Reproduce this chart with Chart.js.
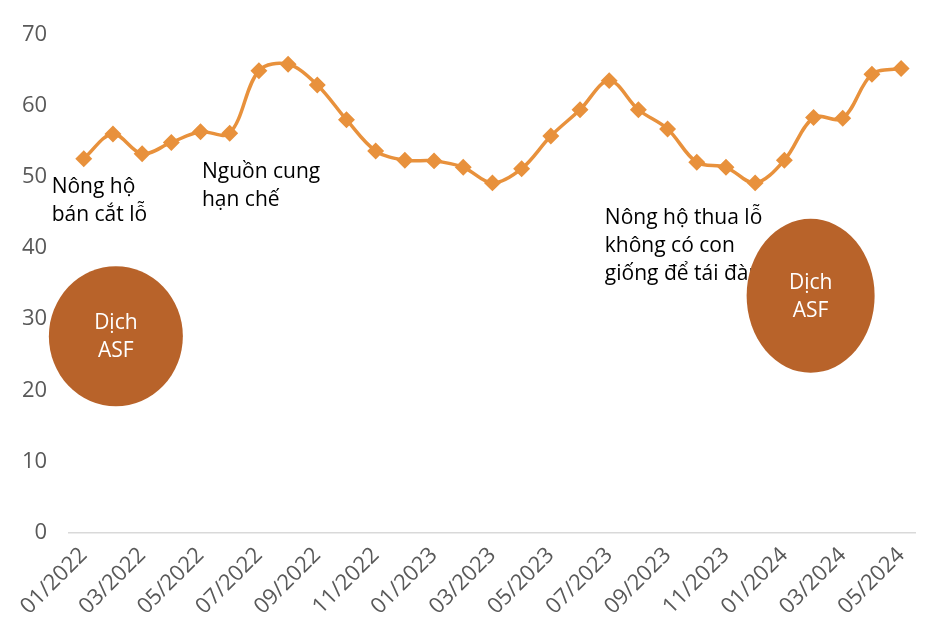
<!DOCTYPE html>
<html><head><meta charset="utf-8">
<script src="https://cdn.jsdelivr.net/npm/chart.js@4/dist/chart.umd.min.js"></script>
<style>html,body{margin:0;background:#fff}#w{width:930px;height:630px}</style>
</head><body><div id="w"><canvas id="c"></canvas></div>
<script>
const categories = ["01/2022","02/2022","03/2022","04/2022","05/2022","06/2022","07/2022","08/2022","09/2022","10/2022","11/2022","12/2022","01/2023","02/2023","03/2023","04/2023","05/2023","06/2023","07/2023","08/2023","09/2023","10/2023","11/2023","12/2023","01/2024","02/2024","03/2024","04/2024","05/2024"];
const values = [52.6,56.1,53.3,54.9,56.4,56.2,65.0,65.9,63.0,58.1,53.7,52.4,52.3,51.4,49.2,51.2,55.8,59.5,63.6,59.5,56.8,52.1,51.4,49.2,52.4,58.4,58.3,64.5,65.3];
const yTicks = [0,10,20,30,40,50,60,70];
const notes = [
  {x:-1.1, y:48.6, lines:["Nông hộ","bán cắt lỗ"]},
  {x:4.05, y:50.8, lines:["Nguồn cung","hạn chế"]},
  {x:17.85, y:44.2, lines:["Nông hộ thua lỗ","không có con","giống để tái đàn"]}
];
const bubbles = [{x:1.1, y:27.6, rx:67, ry:70}, {x:24.9, y:33.3, rx:64, ry:77}];
const FONT = "'Open Sans', sans-serif";
const deco = {
  id:'deco',
  afterDatasetsDraw(chart){
    const {ctx, scales:{x,y}} = chart;
    ctx.save();
    ctx.fillStyle='#000'; ctx.font='21px '+FONT; ctx.textBaseline='middle';
    const px = i => x.left + (x.right-x.left)*(i+0.5)/categories.length;
    notes.forEach(n=>n.lines.forEach((l,k)=>ctx.fillText(l, px(n.x), y.getPixelForValue(n.y)+k*28)));
    bubbles.forEach(b=>{
      const cx=px(b.x), cy=y.getPixelForValue(b.y);
      ctx.fillStyle='#B8632A'; ctx.beginPath(); ctx.ellipse(cx,cy,b.rx,b.ry,0,0,Math.PI*2); ctx.fill();
      ctx.fillStyle='#fff'; ctx.textAlign='center'; ctx.font='21px '+FONT;
      ctx.fillText('Dịch',cx,cy-13); ctx.fillText('ASF',cx,cy+15); ctx.textAlign='left';
    });
    ctx.restore();
  }
};
new Chart(document.getElementById('c'),{
  type:'line',
  data:{labels:categories,datasets:[{data:values,borderColor:'#E8913C',backgroundColor:'#E8913C',borderWidth:3.5,tension:0.35,pointStyle:'rectRot',pointRadius:6,pointHoverRadius:6}]},
  options:{animation:false,responsive:true,maintainAspectRatio:false,
    layout:{padding:{left:0,right:12,top:26,bottom:0}},
    plugins:{legend:{display:false},tooltip:{enabled:false}},
    scales:{
      x:{offset:true,grid:{display:false,drawTicks:false},border:{color:'#d9d9d9',width:1.5},
        ticks:{autoSkip:false,maxRotation:45,minRotation:45,color:'#595959',font:{family:FONT,size:22},padding:10,
          callback:(v,i)=> i%2===0 ? categories[i] : ''}},
      y:{min:0,max:70,afterBuildTicks:s=>{s.ticks=yTicks.map(v=>({value:v}));},grid:{display:false,drawTicks:false},border:{display:false},
        ticks:{color:'#595959',font:{family:FONT,size:22},padding:22}}
    }
  },
  plugins:[deco]
});
</script></body></html>
